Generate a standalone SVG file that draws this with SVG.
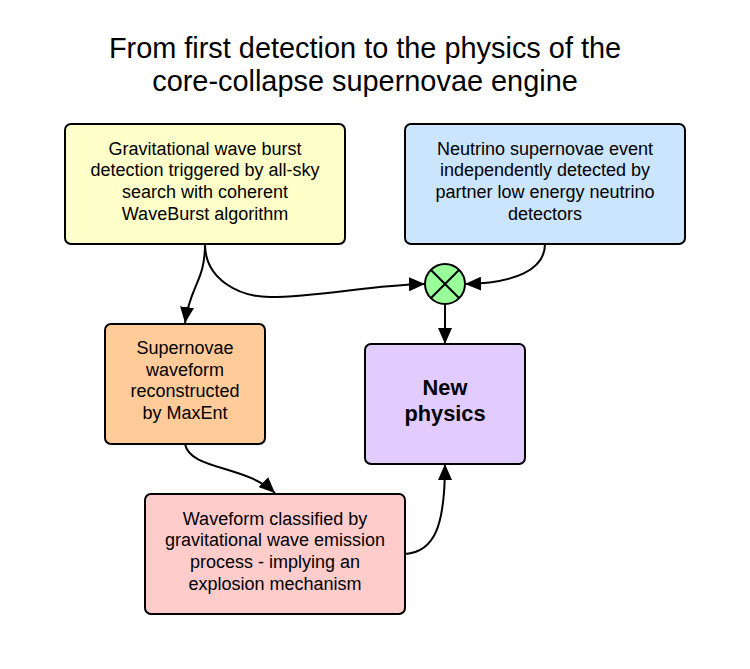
<svg xmlns="http://www.w3.org/2000/svg" width="750" height="669" viewBox="0 0 750 669">
<style>
text{font-family:"Liberation Sans",Arial,sans-serif;fill:#000;text-anchor:middle}
.t{font-size:18px}
.h{font-size:28.9px}
.b{font-size:21.8px;font-weight:bold}
.n{stroke:#000;stroke-width:2}
.c{fill:none;stroke:#000;stroke-width:2}
</style>
<defs>
<marker id="a" markerUnits="userSpaceOnUse" markerWidth="17" markerHeight="14" refX="16" refY="7" orient="auto"><path d="M0 0L16 7L0 14Z" fill="#000"/></marker>
</defs>
<rect width="750" height="669" fill="#fff"/>
<g id="title">
<text class="h" x="365" y="58">From first detection to the physics of the</text>
<text class="h" x="365" y="91">core-collapse supernovae engine</text>
</g>
<g id="connectors">
<path class="c" marker-end="url(#a)" d="M205 244C205 282 190 285 185 323"/>
<path class="c" marker-end="url(#a)" d="M205 244C205 280 240 297 270 297C320 297 370 285 425 284"/>
<path class="c" marker-end="url(#a)" d="M545 244C545 270 515 283 465 284"/>
<path class="c" marker-end="url(#a)" d="M445 304V344"/>
<path class="c" marker-end="url(#a)" d="M185 444C190 470 245 465 275 493"/>
<path class="c" marker-end="url(#a)" d="M405 554C435 552 445 525 445 464"/>
</g>
<g id="n1">
<rect class="n" x="65" y="124" width="280" height="120" rx="6" fill="#ffffc9"/>
<text class="t" x="205" y="155">Gravitational wave burst</text>
<text class="t" x="205" y="176">detection triggered by all-sky</text>
<text class="t" x="205" y="198">search with coherent</text>
<text class="t" x="205" y="220">WaveBurst algorithm</text>
</g>
<g id="n2">
<rect class="n" x="405" y="124" width="280" height="120" rx="6" fill="#cce5ff"/>
<text class="t" x="545" y="155">Neutrino supernovae event</text>
<text class="t" x="545" y="176">independently detected by</text>
<text class="t" x="545" y="198">partner low energy neutrino</text>
<text class="t" x="545" y="220">detectors</text>
</g>
<g id="n3">
<circle class="n" cx="445" cy="284" r="20" fill="#99ff99"/>
<path class="n" fill="none" d="M431 270L459 298M459 270L431 298"/>
</g>
<g id="n4">
<rect class="n" x="105" y="324" width="160" height="120" rx="6" fill="#ffcc99"/>
<text class="t" x="185" y="354">Supernovae</text>
<text class="t" x="185" y="376">waveform</text>
<text class="t" x="185" y="397">reconstructed</text>
<text class="t" x="185" y="419">by MaxEnt</text>
</g>
<g id="n5">
<rect class="n" x="365" y="344" width="160" height="120" rx="6" fill="#e2ccff"/>
<text class="b" x="445" y="395">New</text>
<text class="b" x="445" y="421">physics</text>
</g>
<g id="n6">
<rect class="n" x="145" y="494" width="260" height="120" rx="6" fill="#ffcccc"/>
<text class="t" x="275" y="525">Waveform classified by</text>
<text class="t" x="275" y="546">gravitational wave emission</text>
<text class="t" x="275" y="568">process - implying an</text>
<text class="t" x="275" y="590">explosion mechanism</text>
</g>
</svg>
